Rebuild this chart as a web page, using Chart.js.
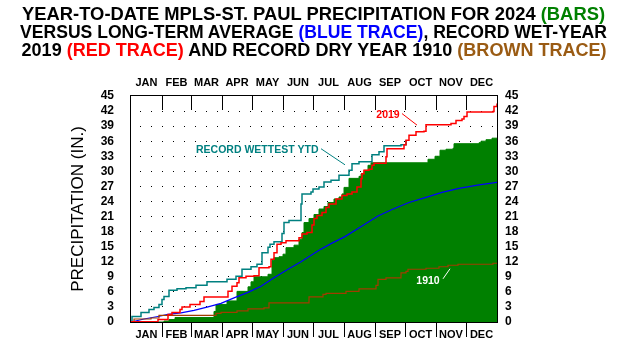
<!DOCTYPE html>
<html><head><meta charset="utf-8">
<script src="https://cdn.jsdelivr.net/npm/chart.js@4"></script>
<style>
html,body{margin:0;padding:0;background:#fff;}
#wrap{position:relative;width:628px;height:354px;overflow:hidden;}
canvas{position:absolute;left:0;top:0;}
#title{position:absolute;left:0;top:5px;width:628px;text-align:center;font:bold 18px/18px "Liberation Sans",Arial,sans-serif;color:#000;white-space:nowrap;}
#title div{height:18px;}
#title span.l{display:inline-block;transform-origin:50% 50%;}
</style></head>
<body>
<div id="wrap">
<canvas id="c" width="628" height="354"></canvas>
<div id="title">
<div><span class="l" data-w="583">YEAR-TO-DATE MPLS-ST. PAUL PRECIPITATION FOR 2024 <span style="color:#008000">(BARS)</span></span></div>
<div><span class="l" data-w="587">VERSUS LONG-TERM AVERAGE <span style="color:#0000ff">(BLUE TRACE)</span>, RECORD WET-YEAR</span></div>
<div><span class="l" data-w="585">2019 <span style="color:#ff0000">(RED TRACE)</span> AND RECORD DRY YEAR 1910 <span style="color:#9a5b13">(BROWN TRACE)</span></span></div>
</div>
</div>
<script>
// ---- data (day of year, cumulative inches) ----
const monthLabels = ['JAN','FEB','MAR','APR','MAY','JUN','JUL','AUG','SEP','OCT','NOV','DEC'];
const monthStarts = [0,31,60,91,121,152,182,213,244,274,305,335,366];
const yTicks = [0,3,6,9,12,15,18,21,24,27,30,33,36,39,42,45];

const days2024 = [0,33,38,44,83,85,96,106,117,120,123,137,141,143,148,152,155,163,168,171,173,178,183,188,193,197,203,208,211,213,218,228,230,233,237,240,297,304,309,315,322,323,348,350,355,361,366];
const vals2024 = [0,0.2,0.5,0.9,2.1,3.5,4.2,6.1,7.0,8.0,9.0,9.5,12.3,12.8,13.0,13.5,14.8,15.3,16.5,17.8,19.8,20.6,21.4,22.5,23.0,23.8,24.5,24.9,25.5,26.8,28.6,29.0,29.5,30.2,31.2,31.7,32.4,33.0,34.2,34.4,34.6,35.5,35.7,36.0,36.3,36.6,36.6];

const days2019 = [0,27,37,41,49,51,59,69,73,97,101,106,108,115,123,128,138,140,143,146,150,155,168,171,176,181,183,186,191,195,198,205,211,216,221,226,230,231,233,238,241,243,255,256,273,275,278,285,293,295,320,325,331,333,336,362,363,366];
const vals2019 = [0.05,0.5,1.5,1.9,2.5,3.0,3.5,4.1,5.0,6.1,7.1,7.8,8.8,9.1,9.2,10.8,11.0,12.5,13.8,15.5,15.8,16.2,16.8,17.5,17.8,19.3,20.6,21.2,21.8,22.8,23.5,24.5,25.2,25.5,25.9,26.9,28.5,29.5,30.2,30.4,31.2,31.6,32.9,34.5,35.3,36.2,37.2,37.9,38.0,39.3,39.5,40.1,40.4,40.9,41.8,41.9,42.9,43.5];

const daysRecord = [0,1,10,18,23,28,31,33,38,46,55,65,76,96,105,111,120,126,131,137,139,143,151,153,158,170,171,180,182,188,193,200,208,218,221,228,241,248,253,270,275];
const valsRecord = [0.1,1.1,1.9,2.5,2.9,3.5,4.5,5.1,6.3,6.6,6.8,7.3,8.0,8.5,9.1,10.5,11.0,11.5,13.8,14.9,15.5,16.0,17.6,19.8,20.2,23.5,25.5,25.9,26.5,26.9,27.9,28.2,29.2,30.2,31.5,31.9,33.3,33.9,35.1,35.3,36.2];

const daysAvg = [0,13,27,37,50,63,77,90,103,117,130,143,157,170,188,200,214,231,247,261,278,295,311,328,348,366];
const valsAvg = [0,0.6,1.1,1.5,1.8,2.3,3.0,3.7,4.8,5.9,7.1,8.8,10.5,12.0,14.3,15.6,17.0,19.1,21.1,22.4,23.8,24.8,25.8,26.6,27.3,27.8];

const days1910 = [0,3,20,28,85,90,106,117,133,138,178,192,195,215,228,245,247,255,270,275,277,295,308,317,327,362,366];
const vals1910 = [0.05,0.6,0.8,1.3,1.7,1.9,2.2,2.6,2.8,3.8,5.0,5.5,5.7,6.1,6.6,7.3,8.5,8.8,9.8,10.1,10.5,10.7,11.0,11.3,11.5,11.7,11.7];

const pts = (d, v) => d.map((x, i) => ({x: x, y: v[i]}));
const monthMids = monthLabels.map((m, i) => (monthStarts[i] + monthStarts[i+1]) / 2);
const FONT = '"Liberation Sans", Arial, sans-serif';

// fit title lines to the reference widths
document.querySelectorAll('#title span.l').forEach(el => {
  const w = el.getBoundingClientRect().width;
  el.style.transform = 'scaleX(' + (parseFloat(el.dataset.w) / w) + ')';
});

const decor = {
  id: 'decor',
  afterDatasetsDraw(chart) {
    const ctx = chart.ctx, xs = chart.scales.x, ys = chart.scales.y;
    const P = (d, v) => [xs.getPixelForValue(d), ys.getPixelForValue(v)];
    ctx.save();
    ctx.font = 'bold 10.5px ' + FONT;
    ctx.textBaseline = 'middle';
    ctx.fillStyle = '#008080'; ctx.textAlign = 'left';
    let p = P(65, 34.2); ctx.fillText('RECORD WETTEST YTD', p[0], p[1]);
    ctx.strokeStyle = '#008080'; ctx.lineWidth = 1;
    let a = P(190, 34.5), b = P(214, 31.3);
    ctx.beginPath(); ctx.moveTo(a[0], a[1]); ctx.lineTo(b[0], b[1]); ctx.stroke();
    ctx.fillStyle = '#ff0000'; ctx.textAlign = 'center';
    p = P(257, 41.2); ctx.fillText('2019', p[0], p[1]);
    ctx.strokeStyle = '#ff0000';
    a = P(271, 41.5); b = P(286, 39.2);
    ctx.beginPath(); ctx.moveTo(a[0], a[1]); ctx.lineTo(b[0], b[1]); ctx.stroke();
    ctx.fillStyle = '#ffffff';
    p = P(297, 8.1); ctx.fillText('1910', p[0], p[1]);
    ctx.strokeStyle = '#ffffff';
    a = P(312, 8.6); b = P(319, 10.6);
    ctx.beginPath(); ctx.moveTo(a[0], a[1]); ctx.lineTo(b[0], b[1]); ctx.stroke();
    ctx.restore();
  },
  afterDraw(chart) {
    const ctx = chart.ctx, ca = chart.chartArea, xs = chart.scales.x;
    ctx.save();
    ctx.strokeStyle = '#000'; ctx.lineWidth = 1;
    ctx.strokeRect(ca.left - 0.5, ca.top - 0.5, ca.right - ca.left + 1, ca.bottom - ca.top + 1);
    ctx.beginPath();
    monthStarts.slice(1, 12).forEach(d => {
      const x = Math.round(xs.getPixelForValue(d)) + 0.5;
      ctx.moveTo(x, ca.top); ctx.lineTo(x, ca.top + 14);
      ctx.moveTo(x, ca.bottom); ctx.lineTo(x, ca.bottom + 15);
    });
    ctx.stroke();
    ctx.restore();
  }
};

const monthAxis = (pos, h) => ({
  type: 'linear', position: pos, min: 0, max: 366,
  afterBuildTicks: s => { s.ticks = monthMids.map(v => ({value: v})); },
  afterFit: s => { s.height = h; },
  ticks: { autoSkip: false, maxRotation: 0, padding: 6, color: '#000',
    font: {family: FONT, weight: 'bold', size: 11},
    callback: (v, i) => monthLabels[i] },
  grid: { display: false, drawTicks: false },
  border: { display: false }
});

const yAxis = (pos, w, pad) => ({
  position: pos, min: 0, max: 45,
  afterBuildTicks: s => { s.ticks = yTicks.map(v => ({value: v})); },
  afterFit: s => { s.width = w; },
  ticks: { autoSkip: false, padding: pad, color: '#000', font: {family: FONT, weight: 'bold', size: 12} },
  grid: { display: false, drawTicks: false },
  border: { display: false }
});

const yLeft = yAxis('left', 131, 17);
yLeft.grid = { display: true, drawTicks: false, lineWidth: 1,
  color: c => (c.tick && (c.tick.value === 0 || c.tick.value === 45)) ? 'rgba(0,0,0,0)' : '#000' };
yLeft.border = { display: false, dash: [1, 10], dashOffset: 2 };
yLeft.title = { display: true, text: 'PRECIPITATION (IN.)', color: '#000',
  font: {family: FONT, size: 17}, padding: {top: 68, bottom: 0} };

new Chart(document.getElementById('c'), {
  type: 'line',
  data: {
    datasets: [
      { label: '2024', data: pts(days2024, vals2024), stepped: true, fill: 'origin',
        backgroundColor: '#008000', borderColor: '#008000', borderWidth: 1, pointRadius: 0, order: 10 },
      { label: 'Average', data: pts(daysAvg, valsAvg), borderColor: '#0000ff', borderWidth: 1.2,
        pointRadius: 0, tension: 0, fill: false, order: 5 },
      { label: '1910', data: pts(days1910, vals1910), stepped: true, borderColor: '#a03c00',
        borderWidth: 1.2, pointRadius: 0, fill: false, order: 4 },
      { label: '2019', data: pts(days2019, vals2019), stepped: true, borderColor: '#ff0000',
        borderWidth: 1.5, pointRadius: 0, fill: false, order: 2 },
      { label: 'Record wettest YTD', data: pts(daysRecord, valsRecord), stepped: true, borderColor: '#008080',
        borderWidth: 1.5, pointRadius: 0, fill: false, order: 3 }
    ]
  },
  options: {
    responsive: false, animation: false, devicePixelRatio: 1,
    layout: { padding: 0 },
    plugins: { legend: { display: false }, tooltip: { enabled: false }, title: { display: false } },
    scales: {
      x: monthAxis('bottom', 32),
      x2: monthAxis('top', 96),
      y: yLeft,
      y2: yAxis('right', 131, 8)
    }
  },
  plugins: [decor]
});
</script>
</body></html>
